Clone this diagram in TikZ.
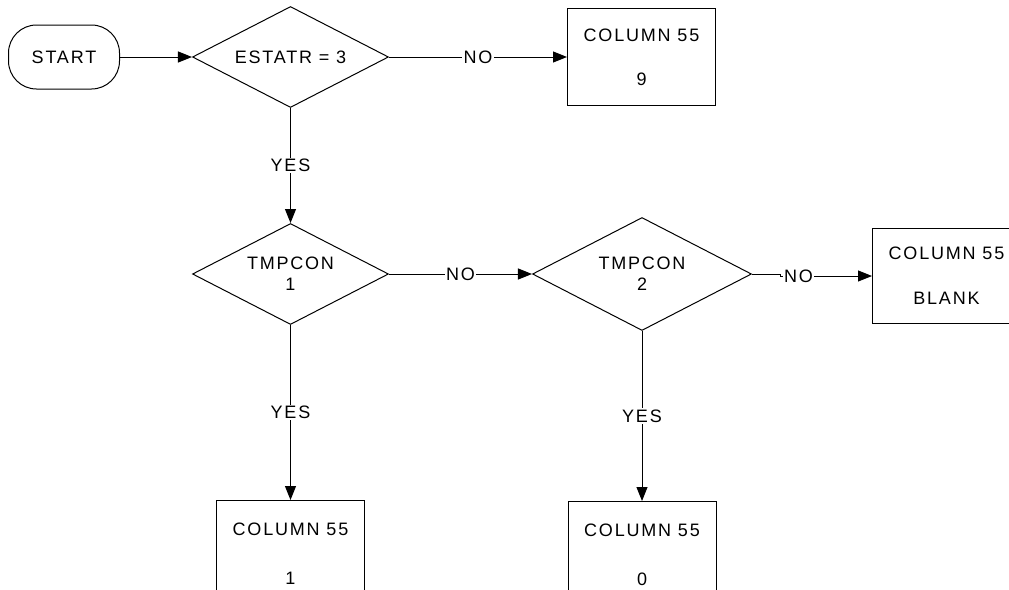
\documentclass[tikz,border=0pt]{standalone}
\usepackage{fontspec}
\setmainfont{Liberation Sans}[LetterSpace=10]
\usetikzlibrary{arrows.meta,positioning,shapes.geometric}

\begin{document}
\begin{tikzpicture}[x=1pt, y=-1pt, font=\fontsize{18}{21}\selectfont, line width=1pt,
  term/.style={rectangle, draw, rounded corners=28pt, minimum width=111pt, minimum height=64pt},
  decision/.style={diamond, draw, aspect=2, inner sep=0pt, align=center},
  box/.style={rectangle, draw, minimum width=148pt, minimum height=97pt, align=center},
  lbl/.style={fill=white, inner sep=1.5pt},
  arr/.style={-{Triangle[length=14pt, width=11pt]}}]
\useasboundingbox (0,0) rectangle (1009,589);
\node[term] (start) at (64,57) {START};
\node[decision, minimum width=196pt, minimum height=101pt, right=72pt of start] (estatr) {ESTATR = 3};
\node[box, right=178pt of estatr] (col9) {COLUMN 55\\[23pt]9};
\node[decision, minimum width=196pt, minimum height=101pt, below=115pt of estatr] (tmp1) {TMPCON\\1};
\node[decision, minimum width=219pt, minimum height=113pt, right=143pt of tmp1] (tmp2) {TMPCON\\2};
\node[box, minimum height=95pt, right=120pt of tmp2, yshift=-2pt] (blank) {COLUMN 55\\[24pt]BLANK};
\node[box, minimum height=107pt, below=175pt of tmp1] (col1) {COLUMN 55\\[28pt]1};
\node[box, minimum height=107pt, below=170pt of tmp2] (col0) {COLUMN 55\\[28pt]0};
\draw[arr] (start) -- (estatr);
\draw[arr] (estatr) -- node[lbl] {NO} (col9);
\draw[arr] (estatr) -- node[lbl] {YES} (tmp1);
\draw[arr] (tmp1) -- node[lbl] {NO} (tmp2);
\draw[arr] (tmp2.east) -- ++(28,0) coordinate (jog) -- (jog |- blank.west)
  -- node[lbl, pos=0.2] {NO} (blank.west);
\draw[arr] (tmp1) -- node[lbl] {YES} (col1);
\draw[arr] (tmp2) -- node[lbl] {YES} (col0);
\end{tikzpicture}
\end{document}
